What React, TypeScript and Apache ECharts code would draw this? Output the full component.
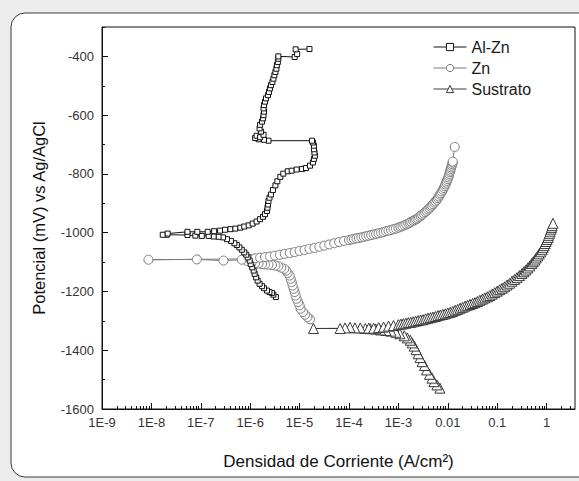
import React, { useEffect, useRef } from "react";
import * as echarts from "echarts";

// [log10(current density A/cm2), potential mV vs Ag/AgCl]
const alZn: [number, number][] = [
  [-5.48, -1219], [-5.53, -1211], [-5.56, -1205], [-5.61, -1202], [-5.66, -1197], [-5.72, -1189],
  [-5.76, -1182], [-5.81, -1174], [-5.85, -1163], [-5.88, -1152], [-5.91, -1140], [-5.93, -1129],
  [-5.96, -1118], [-5.99, -1107], [-6.01, -1095], [-6.05, -1084], [-6.08, -1075], [-6.12, -1067],
  [-6.17, -1058], [-6.22, -1050], [-6.27, -1042], [-6.32, -1036], [-6.39, -1028], [-6.47, -1022],
  [-6.55, -1016], [-6.64, -1014], [-6.74, -1013], [-6.84, -1011], [-6.98, -1011], [-7.11, -1010],
  [-7.27, -1008], [-7.69, -1007], [-7.77, -1007],
  [-7.67, -1003], [-7.27, -997], [-7.07, -997], [-6.86, -997], [-6.73, -995], [-6.61, -993],
  [-6.51, -990], [-6.40, -988], [-6.30, -986], [-6.20, -983], [-6.12, -979], [-6.03, -975],
  [-5.95, -969], [-5.87, -962], [-5.80, -954], [-5.74, -946], [-5.70, -937], [-5.66, -926],
  [-5.65, -915], [-5.64, -904], [-5.63, -892], [-5.61, -881], [-5.58, -870], [-5.54, -855],
  [-5.49, -839], [-5.45, -825], [-5.39, -810], [-5.33, -799], [-5.24, -791],
  [-5.16, -789], [-5.06, -785], [-4.95, -783], [-4.87, -780], [-4.79, -772], [-4.73, -761],
  [-4.71, -749], [-4.69, -738], [-4.70, -727], [-4.71, -716], [-4.71, -704], [-4.73, -693],
  [-4.75, -687],
  [-5.63, -687], [-5.72, -684], [-5.83, -682], [-5.90, -678], [-5.87, -670], [-5.80, -675],
  [-5.73, -667], [-5.78, -656], [-5.81, -645], [-5.80, -633], [-5.76, -622], [-5.74, -611],
  [-5.73, -600], [-5.72, -588], [-5.73, -577], [-5.72, -566], [-5.70, -554], [-5.68, -543],
  [-5.64, -532], [-5.62, -521], [-5.60, -509], [-5.58, -498], [-5.55, -487], [-5.53, -476],
  [-5.51, -464], [-5.49, -453], [-5.47, -442], [-5.46, -430], [-5.44, -419], [-5.43, -408],
  [-5.43, -400],
  [-5.10, -402], [-5.05, -392], [-5.08, -376], [-4.80, -375],
];

const zn: [number, number][] = [
  [-4.79, -1295], [-4.84, -1287], [-4.89, -1279], [-4.93, -1270], [-4.98, -1259], [-5.00, -1247],
  [-5.03, -1236], [-5.06, -1225], [-5.08, -1214], [-5.10, -1202], [-5.12, -1191], [-5.14, -1180],
  [-5.16, -1168], [-5.18, -1157], [-5.20, -1146], [-5.24, -1137], [-5.27, -1129], [-5.31, -1123],
  [-5.37, -1119], [-5.43, -1114], [-5.49, -1112], [-5.56, -1110], [-5.63, -1109], [-5.70, -1108],
  [-5.76, -1107], [-5.83, -1105], [-5.90, -1104], [-5.97, -1101], [-6.07, -1096],
  [-6.17, -1092], [-6.54, -1095], [-7.08, -1091], [-8.06, -1092],
  [-6.00, -1089], [-5.90, -1087], [-5.80, -1085], [-5.70, -1083], [-5.60, -1081], [-5.50, -1078],
  [-5.40, -1075], [-5.30, -1072], [-5.20, -1069], [-5.10, -1066], [-5.00, -1062], [-4.90, -1059],
  [-4.80, -1055], [-4.70, -1052], [-4.60, -1048], [-4.50, -1044], [-4.40, -1040], [-4.30, -1036],
  [-4.20, -1032], [-4.10, -1028], [-4.00, -1025], [-3.95, -1023], [-3.90, -1021], [-3.85, -1019],
  [-3.80, -1018], [-3.75, -1016], [-3.70, -1014], [-3.65, -1012], [-3.60, -1010], [-3.55, -1008],
  [-3.50, -1006], [-3.45, -1004], [-3.40, -1002], [-3.35, -1000], [-3.30, -998], [-3.25, -995],
  [-3.20, -993], [-3.15, -991], [-3.10, -988], [-3.05, -986], [-3.00, -983], [-2.96, -980],
  [-2.92, -978], [-2.88, -975], [-2.84, -972], [-2.80, -969], [-2.77, -966], [-2.74, -963],
  [-2.70, -960], [-2.67, -957], [-2.64, -954], [-2.61, -951], [-2.58, -947], [-2.55, -943],
  [-2.52, -939], [-2.49, -935], [-2.46, -930], [-2.43, -926], [-2.40, -921], [-2.37, -917],
  [-2.35, -912], [-2.32, -908], [-2.30, -903], [-2.27, -898], [-2.25, -893], [-2.22, -888],
  [-2.20, -882], [-2.18, -877], [-2.16, -871], [-2.14, -866], [-2.12, -860], [-2.10, -854],
  [-2.08, -848], [-2.06, -842], [-2.05, -836], [-2.03, -830], [-2.02, -824], [-2.00, -818],
  [-1.99, -812], [-1.98, -806], [-1.97, -800], [-1.96, -794], [-1.95, -789], [-1.94, -783],
  [-1.93, -778], [-1.92, -772], [-1.91, -767], [-1.90, -762], [-1.90, -758], [-1.86, -708],
];

const sustrato: [number, number][] = [
  [-2.16, -1529], [-2.22, -1518], [-2.28, -1507], [-2.32, -1495], [-2.37, -1482], [-2.43, -1467],
  [-2.47, -1452], [-2.52, -1439], [-2.56, -1425], [-2.60, -1412], [-2.64, -1398], [-2.68, -1386],
  [-2.72, -1375], [-2.76, -1366], [-2.82, -1358], [-2.88, -1351], [-2.97, -1344], [-3.05, -1339],
  [-3.15, -1335], [-3.25, -1333], [-3.36, -1331], [-3.46, -1328], [-3.57, -1327], [-3.67, -1326],
  [-3.77, -1324], [-3.88, -1324], [-3.98, -1322], [-4.08, -1324], [-4.18, -1326], [-4.72, -1326],
  [-3.60, -1325], [-3.50, -1325], [-3.40, -1323], [-3.30, -1321], [-3.20, -1318], [-3.10, -1316],
  [-3.00, -1313], [-2.95, -1311], [-2.90, -1310], [-2.85, -1308], [-2.80, -1306], [-2.75, -1305],
  [-2.70, -1303], [-2.65, -1301], [-2.60, -1299], [-2.55, -1297], [-2.50, -1296], [-2.45, -1293],
  [-2.40, -1291], [-2.35, -1289], [-2.30, -1287], [-2.25, -1285], [-2.20, -1282], [-2.15, -1280],
  [-2.10, -1278], [-2.05, -1276], [-2.00, -1273], [-1.95, -1271], [-1.90, -1268], [-1.85, -1264],
  [-1.80, -1261], [-1.75, -1257], [-1.70, -1254], [-1.65, -1250], [-1.60, -1247], [-1.55, -1244],
  [-1.50, -1241], [-1.45, -1238], [-1.40, -1234], [-1.35, -1230], [-1.30, -1226], [-1.25, -1222],
  [-1.20, -1218], [-1.15, -1214], [-1.10, -1209], [-1.05, -1204], [-1.00, -1199], [-0.95, -1194],
  [-0.90, -1189], [-0.85, -1184], [-0.80, -1178], [-0.75, -1172], [-0.70, -1165], [-0.65, -1159],
  [-0.60, -1153], [-0.55, -1146], [-0.50, -1139], [-0.46, -1133], [-0.42, -1127], [-0.38, -1120],
  [-0.34, -1113], [-0.30, -1105], [-0.27, -1099], [-0.24, -1093], [-0.21, -1086], [-0.18, -1079],
  [-0.15, -1072], [-0.12, -1065], [-0.09, -1058], [-0.07, -1051], [-0.05, -1044], [-0.03, -1037],
  [-0.01, -1030], [0.01, -1023], [0.03, -1016], [0.04, -1009], [0.06, -1002], [0.07, -995],
  [0.09, -988], [0.10, -982], [0.11, -976], [0.13, -968],
];

const xMajorTicks = [-9, -8, -7, -6, -5, -4, -3, -2, -1, 0];
const xTickLabels = ["1E-9", "1E-8", "1E-7", "1E-6", "1E-5", "1E-4", "1E-3", "0.01", "0.1", "1"];
const yMajorTicks = [-1600, -1400, -1200, -1000, -800, -600, -400];
const yMinorTicks = [-1500, -1300, -1100, -900, -700, -500, -300];
const seriesNames = ["Al-Zn", "Zn", "Sustrato"];

const X_MIN = -9;
const X_MAX = 0.575;

export default function App() {
  const ref = useRef<HTMLDivElement>(null);
  useEffect(() => {
    document.body.style.margin = "0";
    const chart = echarts.init(ref.current!, null, { renderer: "svg" });
    const xMinor: number[] = [];
    for (let n = -9; n <= 0; n++) {
      for (let k = 2; k <= 9; k++) {
        const v = n + Math.log10(k);
        if (v < X_MAX) xMinor.push(v);
      }
    }
    const font = "Liberation Sans, Arial, sans-serif";
    const mk = (name: string, data: [number, number][], symbol: string, size: number, color: string, z: number) => ({
      type: "line",
      name,
      data,
      symbol,
      symbolSize: size,
      showSymbol: true,
      showAllSymbol: true,
      silent: true,
      z,
      lineStyle: { color, width: 1 },
      itemStyle: { color: "#ffffff", borderColor: color, borderWidth: 1 },
      emphasis: { disabled: true },
    });
    const tickColor = "#111";
    chart.setOption({
      animation: false,
      backgroundColor: "#ececec",
      textStyle: { fontFamily: font },
      graphic: [
        {
          type: "rect",
          z: -10,
          silent: true,
          shape: { x: 11, y: 13, width: 640, height: 464, r: 14 },
          style: { fill: "#ffffff", stroke: "#3a3a3a", lineWidth: 1 },
        },
      ],
      grid: { left: 102, right: 4, top: 27, bottom: 72, show: true, borderColor: "#111", borderWidth: 1, backgroundColor: "transparent" },
      legend: {
        data: seriesNames,
        orient: "vertical",
        left: 428,
        top: 34,
        itemGap: 5,
        itemWidth: 33,
        itemHeight: 9,
        itemStyle: { borderWidth: 1 },
        lineStyle: { width: 1 },
        textStyle: { fontSize: 16, color: "#1a1a1a", fontFamily: font },
      },
      xAxis: [
        {
          type: "value",
          min: X_MIN,
          max: X_MAX,
          position: "bottom",
          axisLine: { show: true, onZero: false, lineStyle: { color: tickColor } },
          axisTick: { show: true, inside: true, length: 6, customValues: xMajorTicks, lineStyle: { color: tickColor } },
          axisLabel: {
            customValues: xMajorTicks,
            formatter: (v: number) => xTickLabels[xMajorTicks.indexOf(Math.round(v))] ?? "",
            color: "#333",
            fontSize: 13,
            margin: 7,
          },
          splitLine: { show: false },
          name: "Densidad de Corriente (A/cm²)",
          nameLocation: "middle",
          nameGap: 44,
          nameTextStyle: { fontSize: 17, color: "#111" },
        },
        {
          type: "value",
          min: X_MIN,
          max: X_MAX,
          position: "bottom",
          axisLine: { show: false, onZero: false },
          axisTick: { show: true, inside: true, length: 3, customValues: xMinor, lineStyle: { color: tickColor } },
          axisLabel: { show: false },
          splitLine: { show: false },
        },
      ],
      yAxis: [
        {
          type: "value",
          min: -1600,
          max: -300,
          position: "left",
          axisLine: { show: true, onZero: false, lineStyle: { color: tickColor } },
          axisTick: { show: true, inside: true, length: 6, customValues: yMajorTicks, lineStyle: { color: tickColor } },
          axisLabel: { customValues: yMajorTicks, formatter: (v: number) => String(v), color: "#333", fontSize: 13, margin: 8 },
          splitLine: { show: false },
          name: "Potencial (mV) vs Ag/AgCl",
          nameLocation: "middle",
          nameGap: 55,
          nameTextStyle: { fontSize: 16.5, color: "#111" },
        },
        {
          type: "value",
          min: -1600,
          max: -300,
          position: "left",
          axisLine: { show: false, onZero: false },
          axisTick: { show: true, inside: true, length: 3, customValues: yMinorTicks, lineStyle: { color: tickColor } },
          axisLabel: { show: false },
          splitLine: { show: false },
        },
      ],
      series: [
        mk(seriesNames[0], alZn, "rect", 5, "#111111", 5),
        mk(seriesNames[1], zn, "circle", 9, "#7a7a7a", 4),
        mk(seriesNames[2], sustrato, "triangle", 10, "#3a3a3a", 6),
      ],
    });
    return () => chart.dispose();
  }, []);
  return <div ref={ref} style={{ position: "fixed", left: 0, top: 0, width: 579, height: 481 }} />;
}
